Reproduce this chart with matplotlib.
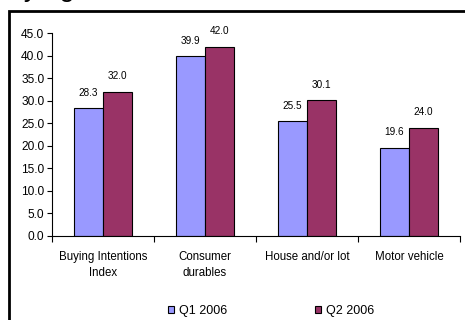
import matplotlib
matplotlib.use("Agg")
import matplotlib.pyplot as plt
import numpy as np
from matplotlib.patches import Rectangle

categories = ["Buying Intentions\nIndex", "Consumer\ndurables", "House and/or lot", "Motor vehicle"]
q1 = [28.3, 39.9, 25.5, 19.6]
q2 = [32.0, 42.0, 30.1, 24.0]
series_names = ["Q1 2006", "Q2 2006"]
yticks = [0, 5, 10, 15, 20, 25, 30, 35, 40, 45]

plt.rcParams['font.family'] = ['Liberation Sans', 'DejaVu Sans']

W, H = 465, 320
fig = plt.figure(figsize=(W / 100, H / 100), dpi=100)
fig.patch.set_facecolor('white')

# outer chart frame (cropped at right and bottom)
fig.patches.append(Rectangle((8.5 / W, -0.05), 1.1, 1 - 11 / H + 0.05, transform=fig.transFigure,
                             fill=False, edgecolor='black', linewidth=2.0, clip_on=False))
# cropped title above the frame
fig.text(-9.5 / W, 1 + 3.5 / H, "Buying", fontsize=20, va='baseline', ha='left', color='black')

ax = fig.add_axes([52 / W, 1 - 236 / H, (460 - 52) / W, (236 - 33) / H])
x = np.arange(len(categories))
bw = 0.285
b1 = ax.bar(x - bw / 2, q1, bw, color='#9999FF', edgecolor='black', linewidth=0.8, label=series_names[0])
b2 = ax.bar(x + bw / 2, q2, bw, color='#993366', edgecolor='black', linewidth=0.8, label=series_names[1])

for bars, vals in ((b1, q1), (b2, q2)):
    for r, v in zip(bars, vals):
        ax.annotate(f"{v:.1f}", (r.get_x() + r.get_width() / 2, v), xytext=(0, 11),
                    textcoords='offset points', ha='center', va='center', fontsize=7.2)

ax.set_xlim(-0.5, len(categories) - 0.5)
ax.set_ylim(0, 45)
ax.set_yticks(yticks)
ax.set_yticklabels([f"{t:.1f}" for t in yticks], fontsize=8.6)
ax.set_xticks(x)
ax.set_xticklabels(categories, fontsize=8.3, linespacing=1.45)
ax.tick_params(axis='x', length=0, pad=10.5)
ax.set_xticks(np.arange(len(categories) + 1) - 0.5, minor=True)
ax.tick_params(axis='x', which='minor', length=4, width=0.8, direction='out')
ax.tick_params(axis='y', length=3.5, width=0.8, direction='out', pad=2)
for s in ('top', 'right'):
    ax.spines[s].set_visible(False)
for s in ('left', 'bottom'):
    ax.spines[s].set_linewidth(0.8)

handles = [Rectangle((0, 0), 1, 1, facecolor='#9999FF', edgecolor='black', linewidth=0.8),
           Rectangle((0, 0), 1, 1, facecolor='#993366', edgecolor='black', linewidth=0.8)]
fig.legend(handles, series_names, loc='center', bbox_to_anchor=(271 / W, 1 - 311 / H), ncol=2,
           frameon=False, fontsize=9, handlelength=0.5, handleheight=0.5, handletextpad=0.35,
           columnspacing=7.05, borderpad=0, borderaxespad=0)

fig.savefig("out.png", dpi=100)
